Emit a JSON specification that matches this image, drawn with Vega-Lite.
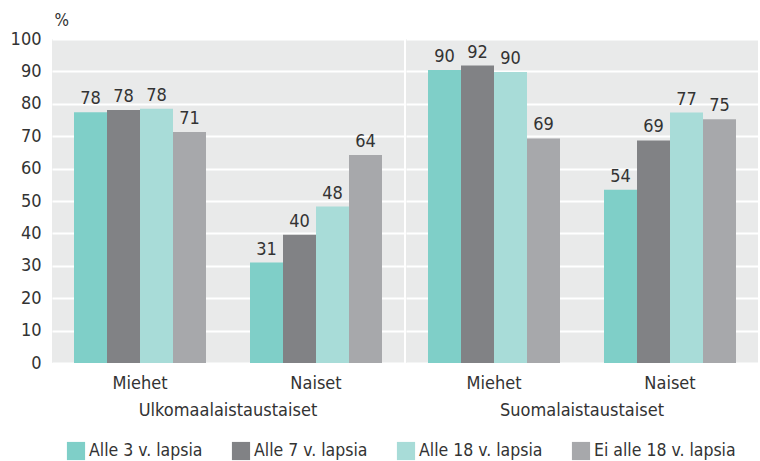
{
  "$schema": "https://vega.github.io/schema/vega-lite/v6.json",
  "background": "white",
  "padding": {"left": 10, "top": 11, "right": 0, "bottom": 0},
  "data": {"values": [
    {"origin": "Ulkomaalaistaustaiset", "sex": "Miehet", "series": "Alle 3 v. lapsia", "value": 77.4, "label": "78"},
    {"origin": "Ulkomaalaistaustaiset", "sex": "Miehet", "series": "Alle 7 v. lapsia", "value": 78.1, "label": "78"},
    {"origin": "Ulkomaalaistaustaiset", "sex": "Miehet", "series": "Alle 18 v. lapsia", "value": 78.5, "label": "78"},
    {"origin": "Ulkomaalaistaustaiset", "sex": "Miehet", "series": "Ei alle 18 v. lapsia", "value": 71.3, "label": "71"},
    {"origin": "Ulkomaalaistaustaiset", "sex": "Naiset", "series": "Alle 3 v. lapsia", "value": 31, "label": "31"},
    {"origin": "Ulkomaalaistaustaiset", "sex": "Naiset", "series": "Alle 7 v. lapsia", "value": 39.6, "label": "40"},
    {"origin": "Ulkomaalaistaustaiset", "sex": "Naiset", "series": "Alle 18 v. lapsia", "value": 48.3, "label": "48"},
    {"origin": "Ulkomaalaistaustaiset", "sex": "Naiset", "series": "Ei alle 18 v. lapsia", "value": 64.2, "label": "64"},
    {"origin": "Suomalaistaustaiset", "sex": "Miehet", "series": "Alle 3 v. lapsia", "value": 90.4, "label": "90"},
    {"origin": "Suomalaistaustaiset", "sex": "Miehet", "series": "Alle 7 v. lapsia", "value": 91.8, "label": "92"},
    {"origin": "Suomalaistaustaiset", "sex": "Miehet", "series": "Alle 18 v. lapsia", "value": 89.8, "label": "90"},
    {"origin": "Suomalaistaustaiset", "sex": "Miehet", "series": "Ei alle 18 v. lapsia", "value": 69.3, "label": "69"},
    {"origin": "Suomalaistaustaiset", "sex": "Naiset", "series": "Alle 3 v. lapsia", "value": 53.5, "label": "54"},
    {"origin": "Suomalaistaustaiset", "sex": "Naiset", "series": "Alle 7 v. lapsia", "value": 68.7, "label": "69"},
    {"origin": "Suomalaistaustaiset", "sex": "Naiset", "series": "Alle 18 v. lapsia", "value": 77.3, "label": "77"},
    {"origin": "Suomalaistaustaiset", "sex": "Naiset", "series": "Ei alle 18 v. lapsia", "value": 75.2, "label": "75"}
  ]},
  "facet": {
    "column": {
      "field": "origin", "type": "nominal",
      "sort": ["Ulkomaalaistaustaiset", "Suomalaistaustaiset"],
      "header": {"title": null, "labelOrient": "bottom", "labelFontSize": 18, "labelColor": "#333333", "labelPadding": 10}
    }
  },
  "spacing": 2,
  "spec": {
    "width": 352,
    "height": 324,
    "encoding": {
      "x": {"field": "sex", "type": "nominal", "scale": {"paddingInner": 0.25, "paddingOuter": 0.125},
            "axis": {"title": null, "labelAngle": 0, "domain": false, "ticks": false, "labelPadding": 11, "labelFontSize": 18, "labelColor": "#333333"}},
      "xOffset": {"field": "series", "type": "nominal", "sort": ["Alle 3 v. lapsia", "Alle 7 v. lapsia", "Alle 18 v. lapsia", "Ei alle 18 v. lapsia"], "scale": {"paddingInner": 0, "paddingOuter": 0}},
      "y": {"field": "value", "type": "quantitative", "scale": {"domain": [0, 100], "nice": false},
            "axis": {"title": "%", "titleAngle": 0, "titleAlign": "left", "titleBaseline": "alphabetic", "titleX": 2, "titleY": -14, "titleFontSize": 17, "titleFontWeight": "normal", "titleColor": "#333333",
                     "values": [0, 10, 20, 30, 40, 50, 60, 70, 80, 90, 100], "domain": false, "ticks": false, "labelPadding": 11, "labelFontSize": 18, "labelColor": "#333333",
                     "grid": true, "gridColor": "white", "gridWidth": 2}}
    },
    "layer": [
      {
        "mark": {"type": "bar"},
        "encoding": {
          "color": {"field": "series", "type": "nominal",
                    "sort": ["Alle 3 v. lapsia", "Alle 7 v. lapsia", "Alle 18 v. lapsia", "Ei alle 18 v. lapsia"],
                    "scale": {"domain": ["Alle 3 v. lapsia", "Alle 7 v. lapsia", "Alle 18 v. lapsia", "Ei alle 18 v. lapsia"], "range": ["#7fcfc8", "#818285", "#a8dcd8", "#a7a8ab"]},
                    "legend": {"title": null, "orient": "none", "legendX": 14, "legendY": 402, "direction": "horizontal", "gridAlign": "none", "symbolType": "square", "symbolSize": 330, "labelFontSize": 17.5, "labelColor": "#333333", "columnPadding": 28, "labelOffset": 3, "padding": 0}}
        }
      },
      {
        "mark": {"type": "text", "baseline": "bottom", "dy": -4, "fontSize": 18, "color": "#333333"},
        "encoding": {"text": {"field": "label", "type": "nominal"}}
      }
    ]
  },
  "config": {
    "font": "DejaVu Sans Condensed, sans-serif",
    "view": {"fill": "#e9eaea", "stroke": null},
    "text": {"font": "DejaVu Sans Condensed, sans-serif"}
  }
}
